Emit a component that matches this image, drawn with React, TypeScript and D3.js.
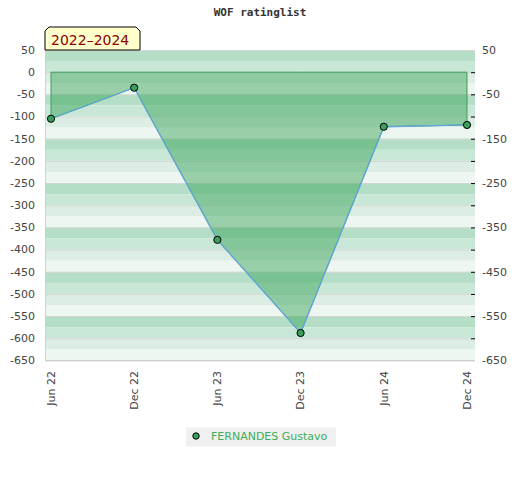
import { useEffect } from 'react';
import * as d3 from 'd3';

const periods = ['Jun 22', 'Dec 22', 'Jun 23', 'Dec 23', 'Jun 24', 'Dec 24'];
const ratingChange = [-105, -35, -378, -588, -123, -119];
const leftTicks = [50, 0, -50, -100, -150, -200, -250, -300, -350, -400, -450, -500, -550, -600, -650];
const rightTicks = [50, -50, -150, -250, -350, -450, -550, -650];
const playerName = 'FERNANDES Gustavo';
const rangeLabel = '2022–2024';

const width = 520;
const height = 480;
const plot = { left: 45, right: 475, top: 50, bottom: 360.5 };
const bandColors = ['#b4dec5', '#c9e7d6', '#dceee3', '#eef6f1'];
const font = '"DejaVu Sans", sans-serif';

export default function App() {
  useEffect(() => {
    document.body.style.margin = '0';
  }, []);

  const x = d3.scalePoint<string>()
    .domain(periods)
    .range([51, 467]);

  const y = d3.scaleLinear()
    .domain([50, -650])
    .range([plot.top, plot.bottom]);

  const bands = d3.range(50, -650, -25);
  const points = periods.map((p, i) => ({ p, v: ratingChange[i] }));

  const area = d3.area<{ p: string; v: number }>()
    .x(d => x(d.p)!)
    .y0(y(0))
    .y1(d => y(d.v));

  const line = d3.line<{ p: string; v: number }>()
    .x(d => x(d.p)!)
    .y(d => y(d.v));

  return (
    <svg width={width} height={height} style={{ display: 'block', background: '#fff' }}>
      <text x={260} y={16} textAnchor="middle" fontFamily='"DejaVu Sans Mono", monospace'
        fontWeight="bold" fontSize={11} fill="#333">WOF ratinglist</text>

      {/* striped background */}
      {bands.map((b, i) => (
        <rect key={b} x={plot.left} y={y(b)} width={plot.right - plot.left}
          height={y(b - 25) - y(b)} fill={bandColors[i % 4]} />
      ))}
      {leftTicks.map(t => (
        <line key={t} x1={plot.left} x2={plot.right} y1={y(t) + 0.5} y2={y(t) + 0.5}
          stroke="#d6d6d6" strokeWidth={1} />
      ))}
      <path d={`M${plot.left + 0.5},${plot.top}V${plot.bottom}H${plot.right}`}
        fill="none" stroke="#d0d0d0" />

      {/* series */}
      <path d={area(points)!} fill="#2e9e4f" fillOpacity={0.45} stroke="#3a9f5a" strokeWidth={1} />
      <path d={line(points)!} fill="none" stroke="#62a6dc" strokeWidth={1.3} />
      {points.map(d => (
        <circle key={d.p} cx={x(d.p)} cy={y(d.v)} r={3.6} fill="#3a9f5a" stroke="#000" strokeWidth={1} />
      ))}

      {/* left axis */}
      {leftTicks.map(t => (
        <text key={t} x={35} y={y(t)} dy="0.35em" textAnchor="end" fontFamily={font}
          fontSize={11} fill="#444">{t}</text>
      ))}

      {/* right axis */}
      {leftTicks.slice(1, -1).map(t => (
        <line key={t} x1={471} x2={475} y1={y(t) + 0.5} y2={y(t) + 0.5} stroke="#000" />
      ))}
      {rightTicks.map(t => (
        <text key={t} x={482} y={y(t)} dy="0.35em" fontFamily={font}
          fontSize={11} fill="#444">{t}</text>
      ))}

      {/* x axis */}
      {periods.map(p => (
        <text key={p} transform={`translate(${x(p)},371) rotate(-90)`} dy="0.35em"
          textAnchor="end" fontFamily={font} fontSize={11} fill="#444">{p}</text>
      ))}

      {/* period label */}
      <polygon points="45,50 45,31 49,27 136,27 140,31 140,50" fill="#ffffcc" stroke="#000" />
      <text x={51} y={45} fontFamily={font} fontSize={14} fill="#8b0000">{rangeLabel}</text>

      {/* legend */}
      <rect x={186} y={427.5} width={150} height={19} fill="#f0f0f0" />
      <circle cx={196} cy={436} r={3.2} fill="#3a9f5a" stroke="#000" />
      <text x={211} y={440} fontFamily={font} fontSize={11} fill="#3cae5c">{playerName}</text>
    </svg>
  );
}
